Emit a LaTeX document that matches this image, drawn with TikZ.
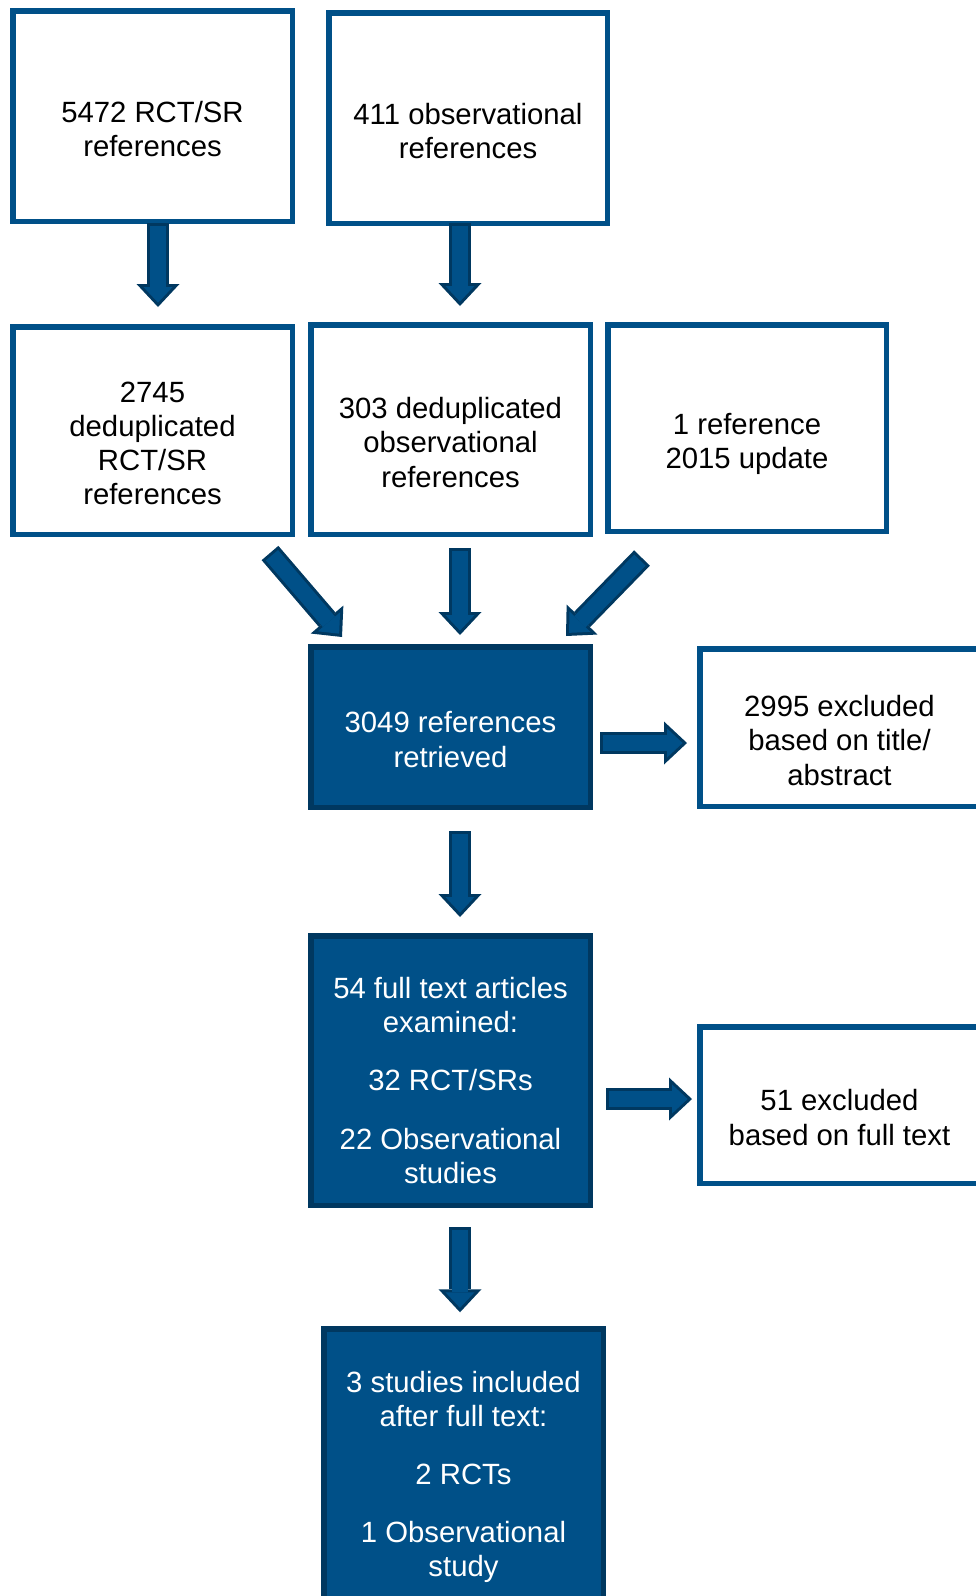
\documentclass[tikz,border=0pt]{standalone}
\usepackage{fontspec}
\setmainfont{Liberation Sans}
\usetikzlibrary{arrows.meta}

\definecolor{boxblue}{RGB}{0,80,136}
\definecolor{darkblue}{RGB}{0,56,96}

\tikzset{
  whitebox/.style={draw=boxblue, line width=5.5pt, fill=white, minimum width=279.5pt, minimum height=#1},
  bluebox/.style={draw=darkblue, line width=5.5pt, fill=boxblue, minimum width=279.5pt, minimum height=#1},
  boxtext/.style={align=center, font=\fontsize{29.3}{34.1}\selectfont},
  bigarrow/.style={draw=darkblue, line width=22pt,
    -{Triangle[length=23pt,width=43pt,line width=0pt]},
    postaction={draw=boxblue, line width=16pt,
      -{Triangle[length=15.6pt,width=29.2pt,line width=0pt]},
      shorten >=4.4pt, shorten <=3pt}}
}

\begin{document}
\begin{tikzpicture}[x=1pt, y=-1pt]
  \useasboundingbox (0,0) rectangle (976,1596);

  % boxes
  \node[whitebox=210.5pt] (rct) at (152.5,116) {};
  \node[whitebox=210.5pt, minimum width=278.5pt] (obs) at (468,118) {};
  \node[whitebox=207.5pt] (rctdedup) at (152.5,430.5) {};
  \node[whitebox=209.5pt] (obsdedup) at (450.5,429.5) {};
  \node[whitebox=206.5pt, minimum width=278.5pt] (update) at (747,428) {};
  \node[bluebox=160.5pt] (retrieved) at (450.5,727) {};
  \node[whitebox=157.5pt] (excltitle) at (839.5,727.5) {};
  \node[bluebox=269.5pt] (fulltext) at (450.5,1070.5) {};
  \node[whitebox=156.5pt] (exclfull) at (839.5,1105) {};
  \node[bluebox=270pt] (included) at (463.5,1464) {};

  % texts
  \node[boxtext] at ([yshift=-13pt]rct.center) {5472 RCT/SR\\references};
  \node[boxtext] at ([yshift=-13pt]obs.center) {411 observational\\references};
  \node[boxtext] at ([yshift=-13pt]rctdedup.center) {2745\\deduplicated\\RCT/SR\\references};
  \node[boxtext] at ([yshift=-13pt]obsdedup.center) {303 deduplicated\\observational\\references};
  \node[boxtext] at ([yshift=-16pt]update.center) {1 reference\\2015 update};
  \node[boxtext, text=white] at ([yshift=-12.5pt]retrieved.center) {3049 references\\retrieved};
  \node[boxtext] at ([yshift=-13pt]excltitle.center) {2995 excluded\\based on title/\\abstract};
  \node[boxtext, text=white] at ([yshift=-10pt]fulltext.center)
    {54 full text articles\\examined:\\[24pt]32 RCT/SRs\\[24pt]22 Observational\\studies};
  \node[boxtext] at ([yshift=-12.5pt]exclfull.center) {51 excluded\\based on full text};
  \node[boxtext, text=white] at ([yshift=-13pt]included.center)
    {3 studies included\\after full text:\\[24pt]2 RCTs\\[24pt]1 Observational\\study};

  % arrows
  \draw[bigarrow] ([xshift=5.5pt,yshift=1pt]rct.south) -- ([xshift=5.5pt,yshift=17pt]rctdedup.north);
  \draw[bigarrow] ([xshift=-8pt,yshift=3pt]obs.south) -- ([xshift=9.5pt,yshift=16pt]obsdedup.north);
  \draw[bigarrow] ([xshift=-25pt,yshift=-16pt]rctdedup.south east) -- ([xshift=34pt,yshift=7pt]retrieved.north west);
  \draw[bigarrow] ([xshift=9.5pt,yshift=-11pt]obsdedup.south) -- ([xshift=9.5pt,yshift=9pt]retrieved.north);
  \draw[bigarrow] ([xshift=37pt,yshift=-24pt]update.south west) -- ([xshift=-27pt,yshift=8pt]retrieved.north east);
  \draw[bigarrow] ([xshift=7pt,yshift=-16pt]retrieved.east) -- ([xshift=-10pt,yshift=-15.5pt]excltitle.west);
  \draw[bigarrow] ([xshift=9.5pt,yshift=-21pt]retrieved.south) -- ([xshift=9.5pt,yshift=16pt]fulltext.north);
  \draw[bigarrow] ([xshift=13pt,yshift=-28.5pt]fulltext.east) -- ([xshift=-5pt,yshift=6pt]exclfull.west);
  \draw[bigarrow] ([xshift=9.5pt,yshift=-19pt]fulltext.south) -- ([xshift=-3.5pt,yshift=14pt]included.north);
\end{tikzpicture}
\end{document}
